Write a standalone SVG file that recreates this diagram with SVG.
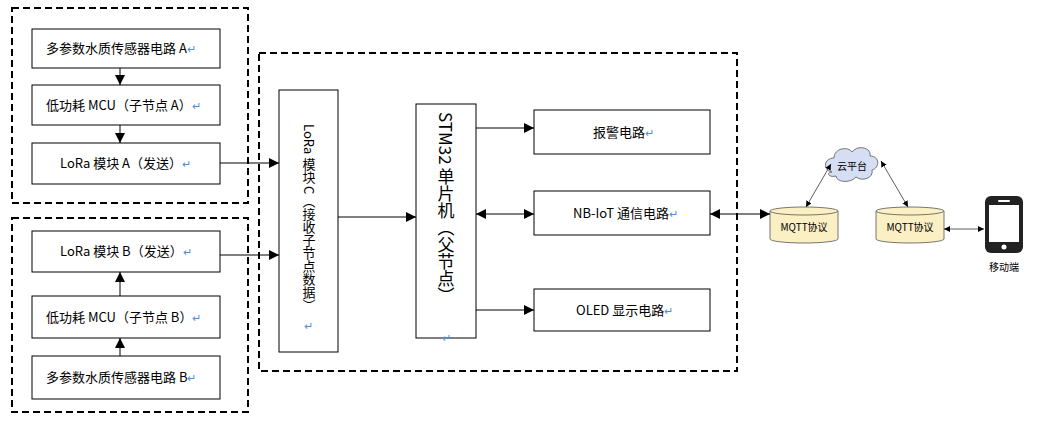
<svg xmlns="http://www.w3.org/2000/svg" width="1044" height="424" viewBox="0 0 1044 424">
<style>
.dash{fill:none;stroke:#000;stroke-width:2;stroke-dasharray:7 4}
.box{fill:#fff;stroke:#000;stroke-width:1}
.t{font-family:"Noto Sans CJK SC","Liberation Sans",sans-serif;font-size:13px;fill:#000}
.v{font-family:"Noto Sans CJK SC","Liberation Sans",sans-serif;writing-mode:vertical-rl;fill:#000}
.r{fill:#4a90e2;font-size:11px;font-family:"Liberation Sans",sans-serif}
.ln{stroke:#000;stroke-width:1;fill:none}
.thin{stroke:#333;stroke-width:0.8;fill:none}
.cyl{fill:#fbefc4;stroke:#555;stroke-width:0.8}
</style>
<defs>
<marker id="a" viewBox="0 0 10 10" refX="10" refY="5" markerWidth="10" markerHeight="10" markerUnits="userSpaceOnUse" orient="auto-start-reverse"><path d="M0,0L10,5L0,10z" fill="#000"/></marker>
<marker id="s" viewBox="0 0 10 10" refX="10" refY="5" markerWidth="6" markerHeight="6" markerUnits="userSpaceOnUse" orient="auto-start-reverse"><path d="M0,0L10,5L0,10z" fill="#000"/></marker>
</defs>
<rect class="dash" x="12" y="8" width="236" height="195"/>
<rect class="dash" x="12" y="218" width="236" height="194"/>
<rect class="dash" x="259" y="53" width="478" height="318"/>
<g id="a1"><rect class="box" x="32" y="29" width="188" height="39"/><text class="t" x="46" y="53">多参数水质传感器电路 A<tspan class="r">↵</tspan></text></g>
<g id="a2"><rect class="box" x="32" y="85" width="188" height="40"/><text class="t" x="46" y="110">低功耗 MCU（子节点 A）<tspan class="r">↵</tspan></text></g>
<g id="a3"><rect class="box" x="32" y="143" width="188" height="41"/><text class="t" x="60" y="168">LoRa 模块 A（发送）<tspan class="r">↵</tspan></text></g>
<g id="b3"><rect class="box" x="32" y="231" width="188" height="41"/><text class="t" x="60" y="256">LoRa 模块 B（发送）<tspan class="r">↵</tspan></text></g>
<g id="b2"><rect class="box" x="32" y="296" width="188" height="42"/><text class="t" x="46" y="322">低功耗 MCU（子节点 B）<tspan class="r">↵</tspan></text></g>
<g id="b1"><rect class="box" x="32" y="356" width="188" height="43"/><text class="t" x="46" y="382">多参数水质传感器电路 B<tspan class="r">↵</tspan></text></g>
<g id="c"><rect class="box" x="279" y="90" width="59" height="262"/><text class="v" x="309" y="124" font-size="13">LoRa 模块 C（接收子节点数据）</text><text class="r" x="304" y="330">↵</text></g>
<g id="stm"><rect class="box" x="416" y="104" width="60" height="234"/><text class="v" x="446" y="112" font-size="17" font-family="Liberation Sans,Noto Sans CJK SC,sans-serif">STM32 单片机（父节点）</text><text class="r" x="442" y="342">↵</text></g>
<g id="alarm"><rect class="box" x="534" y="110" width="176" height="44"/><text class="t" x="593" y="137">报警电路<tspan class="r">↵</tspan></text></g>
<g id="nb"><rect class="box" x="534" y="191" width="176" height="44"/><text class="t" x="573" y="218">NB-IoT 通信电路<tspan class="r">↵</tspan></text></g>
<g id="oled"><rect class="box" x="534" y="289" width="176" height="42"/><text class="t" x="576" y="315">OLED 显示电路<tspan class="r">↵</tspan></text></g>
<g id="cloud"><path d="M832,172 C822,170 824,158 834,158 C834,148 848,146 852,152 C858,144 872,148 870,156 C880,156 880,168 872,170 C874,178 862,182 856,177 C850,184 836,182 836,176 C828,178 826,172 832,172z" fill="#d5def2" stroke="#555" stroke-width="0.8"/><text x="852" y="170" text-anchor="middle" font-size="10" font-family="Noto Sans CJK SC,sans-serif">云平台</text></g>
<g id="m1"><path class="cyl" d="M770,211 v28 a34,4 0 0 0 68,0 v-28"/><ellipse class="cyl" cx="804" cy="211" rx="34" ry="4"/><text x="804" y="231" text-anchor="middle" font-size="10" font-family="Noto Sans CJK SC,sans-serif">MQTT协议</text></g>
<g id="m2"><path class="cyl" d="M876,211 v28 a34,4 0 0 0 68,0 v-28"/><ellipse class="cyl" cx="910" cy="211" rx="34" ry="4"/><text x="910" y="231" text-anchor="middle" font-size="10" font-family="Noto Sans CJK SC,sans-serif">MQTT协议</text></g>
<g id="phone"><rect x="985" y="196" width="38" height="57" rx="6" fill="#222"/><rect x="989" y="205" width="30" height="37" fill="#fff"/><rect x="998" y="200" width="12" height="2" rx="1" fill="#fff"/><circle cx="1004" cy="247" r="2.5" fill="#fff"/><text x="1004" y="271" text-anchor="middle" font-size="10" font-family="Noto Sans CJK SC,sans-serif">移动端</text></g>
<g id="connectors">
<line class="ln" x1="120" y1="68" x2="120" y2="85" marker-end="url(#a)"/>
<line class="ln" x1="120" y1="125" x2="120" y2="143" marker-end="url(#a)"/>
<line class="ln" x1="120" y1="296" x2="120" y2="272" marker-end="url(#a)"/>
<line class="ln" x1="120" y1="356" x2="120" y2="338" marker-end="url(#a)"/>
<line class="ln" x1="220" y1="163" x2="279" y2="163" marker-end="url(#a)"/>
<line class="ln" x1="220" y1="255" x2="279" y2="255" marker-end="url(#a)"/>
<line class="ln" x1="338" y1="217" x2="416" y2="217" marker-end="url(#a)"/>
<line class="ln" x1="476" y1="128" x2="534" y2="128" marker-end="url(#a)"/>
<line class="ln" x1="476" y1="214" x2="534" y2="214" marker-start="url(#a)" marker-end="url(#a)"/>
<line class="ln" x1="476" y1="310" x2="534" y2="310" marker-end="url(#a)"/>
<line class="ln" x1="710" y1="214" x2="770" y2="214" marker-start="url(#a)" marker-end="url(#a)"/>
<line class="thin" x1="806" y1="207" x2="831" y2="164" marker-start="url(#s)" marker-end="url(#s)"/>
<line class="thin" x1="908" y1="207" x2="881" y2="161" marker-start="url(#s)" marker-end="url(#s)"/>
<line class="thin" x1="944" y1="229" x2="984" y2="229" marker-start="url(#s)" marker-end="url(#s)"/>
</g>
</svg>
